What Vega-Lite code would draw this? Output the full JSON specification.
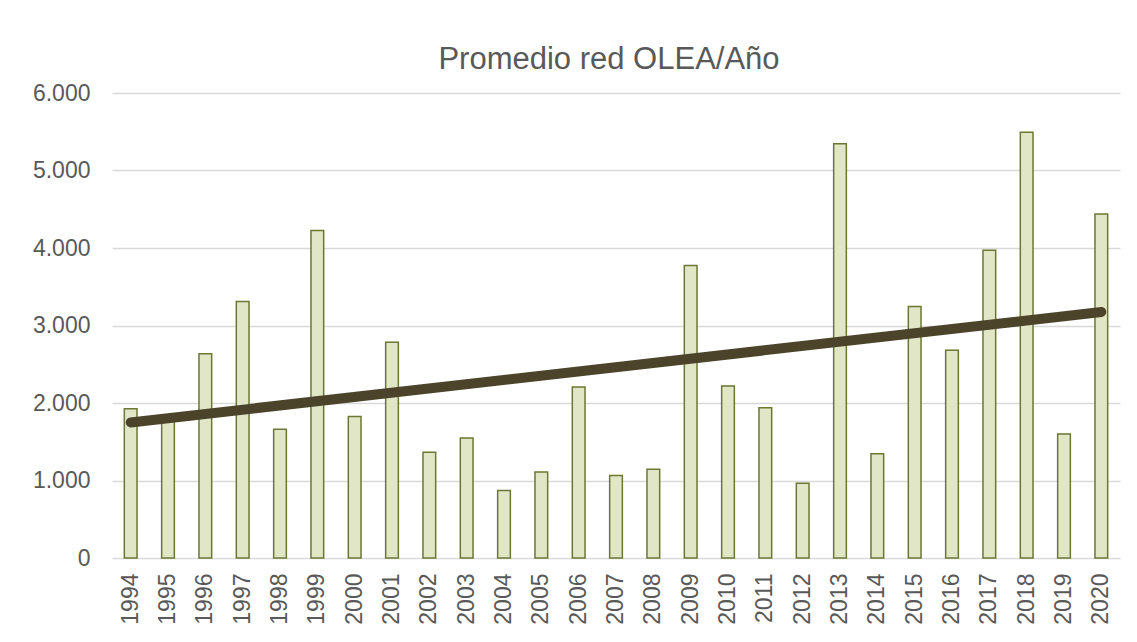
{
  "$schema": "https://vega.github.io/schema/vega-lite/v6.json",
  "autosize": "none",
  "width": 1008,
  "height": 465,
  "padding": {"left": 112, "top": 93, "right": 17, "bottom": 84},
  "background": "white",
  "title": {
    "text": "Promedio red OLEA/Año",
    "font": "Liberation Sans",
    "fontSize": 31,
    "fontWeight": "normal",
    "color": "#595959",
    "anchor": "middle",
    "frame": "group",
    "dx": -7,
    "dy": 30,
    "baseline": "alphabetic",
    "offset": 12
  },
  "data": {
    "values": [
      {"year": 1994, "v": 1925},
      {"year": 1995, "v": 1780},
      {"year": 1996, "v": 2635},
      {"year": 1997, "v": 3310},
      {"year": 1998, "v": 1660},
      {"year": 1999, "v": 4225},
      {"year": 2000, "v": 1825},
      {"year": 2001, "v": 2785},
      {"year": 2002, "v": 1365},
      {"year": 2003, "v": 1550},
      {"year": 2004, "v": 870},
      {"year": 2005, "v": 1110},
      {"year": 2006, "v": 2205},
      {"year": 2007, "v": 1065},
      {"year": 2008, "v": 1145},
      {"year": 2009, "v": 3775},
      {"year": 2010, "v": 2220},
      {"year": 2011, "v": 1940},
      {"year": 2012, "v": 965},
      {"year": 2013, "v": 5345},
      {"year": 2014, "v": 1345},
      {"year": 2015, "v": 3245},
      {"year": 2016, "v": 2680},
      {"year": 2017, "v": 3970},
      {"year": 2018, "v": 5495},
      {"year": 2019, "v": 1600},
      {"year": 2020, "v": 4440}
    ]
  },
  "encoding": {
    "x": {
      "field": "year",
      "type": "ordinal",
      "scale": {"paddingInner": 0.66, "paddingOuter": 0.33},
      "axis": {
        "title": null,
        "labelAngle": 270,
        "labelAlign": "right",
        "labelBaseline": "middle",
        "labelPadding": 15,
        "labelFont": "Liberation Sans",
        "labelFontSize": 23,
        "labelColor": "#595959",
        "ticks": false,
        "domain": false,
        "grid": false
      }
    },
    "y": {
      "field": "v",
      "type": "quantitative",
      "scale": {"domain": [0, 6000], "nice": false, "zero": true},
      "axis": {
        "title": null,
        "values": [0, 1000, 2000, 3000, 4000, 5000, 6000],
        "labelExpr": "replace(format(datum.value, ','), ',', '.')",
        "labelPadding": 22,
        "labelFont": "Liberation Sans",
        "labelFontSize": 23,
        "labelColor": "#595959",
        "ticks": false,
        "domain": false,
        "grid": true,
        "gridColor": "#d9d9d9",
        "gridWidth": 1.5
      }
    }
  },
  "layer": [
    {
      "mark": {"type": "bar", "fill": "#e1e6c7", "stroke": "#6b7834", "strokeWidth": 1.5}
    },
    {
      "transform": [{"regression": "v", "on": "year"}],
      "mark": {"type": "line", "color": "#4b442b", "strokeWidth": 10, "strokeCap": "round"}
    }
  ],
  "config": {
    "view": {"stroke": null}
  }
}
